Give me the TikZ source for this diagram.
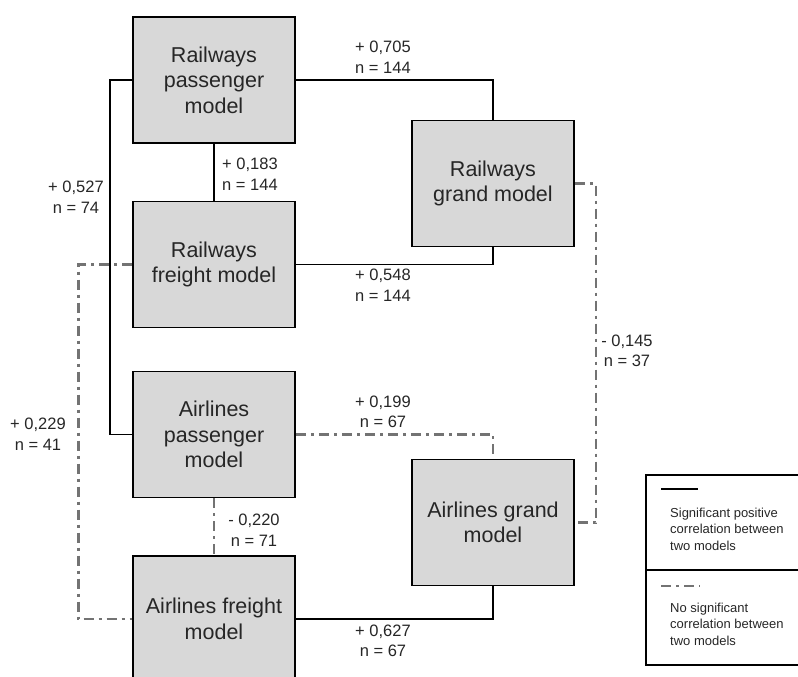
\documentclass[tikz,border=0pt]{standalone}
\usepackage{fontspec}
\setmainfont{Liberation Sans}
\begin{document}
\begin{tikzpicture}[x=1pt,y=-1pt,
  model/.style={draw=black,line width=1.6pt,fill=boxgray,minimum width=162pt,minimum height=126pt,
    align=center,font=\fontsize{21.5}{25.5}\selectfont,text=black!85,inner sep=0pt},
  sig/.style={draw=black,line width=1.6pt},
  nosig/.style={draw=linegray,line width=2.6pt,dash pattern=on 10pt off 5pt on 3pt off 5pt},
  lab/.style={align=center,font=\fontsize{16.5}{20.5}\selectfont,inner sep=0pt,text=black!85},
  leg/.style={align=left,anchor=west,font=\fontsize{13}{16.5}\selectfont,inner sep=0pt,text=black!85}]
\definecolor{boxgray}{RGB}{216,216,216}
\definecolor{linegray}{RGB}{115,115,115}
\useasboundingbox (0,0) rectangle (798,677);
\clip (0,0) rectangle (798,677);
\node[model] (RP) at (214,80) {Railways\\passenger\\model};
\node[model] (RF) at (214,264.5) {Railways\\freight model};
\node[model] (RG) at (493,183.5) {Railways\\grand model};
\node[model] (AP) at (214,434.5) {Airlines\\passenger\\model};
\node[model] (AF) at (214,619) {Airlines freight\\model};
\node[model] (AG) at (493,522.5) {Airlines grand\\model};
% connectors
\draw[sig] (RP.east) -| (RG.north);
\draw[sig] (RF.east) -| (RG.south);
\draw[sig] (RP.south) -- (RF.north);
\draw[sig] (RP.west) -- ++(-22,0) |- (AP.west);
\draw[sig] (AF.east) -| (AG.south);
\draw[nosig] (RF.west) -- ++(-54,0) |- (AF.west);
\draw[nosig] (AP.east) -| (AG.north);
\draw[nosig] (AP.south) -- (AF.north);
\draw[nosig] (RG.east) -- ++(21,0) |- (AG.east);
% labels
\node[lab] (l1) at (383,57) {+ 0,705\\n = 144};
\node[lab] (l2) at (250,174) {+ 0,183\\n = 144};
\node[lab] (l3) at (76,197) {+ 0,527\\n = 74};
\node[lab] (l4) at (383,285) {+ 0,548\\n = 144};
\node[lab] (l5) at (627,351) {- 0,145\\n = 37};
\node[lab] (l6) at (383,412) {+ 0,199\\n = 67};
\node[lab] (l7) at (38,434) {+ 0,229\\n = 41};
\node[lab] (l8) at (254,530) {- 0,220\\n = 71};
\node[lab] (l9) at (383,641) {+ 0,627\\n = 67};
% legend
\draw[line width=1.6pt] (646,475) rectangle (812,665);
\draw[line width=1.6pt] (646,570) -- (812,570);
\coordinate (s1) at (661,489);
\coordinate (s2) at (698,489);
\draw[sig] (s1) -- (s2);
\coordinate (d1) at (661,586);
\coordinate (d2) at (700,586);
\draw[nosig] (d1) -- (d2);
\node[leg] (t1) at (670,529) {Significant positive\\correlation between\\two models};
\node[leg] (t2) at (670,624) {No significant\\correlation between\\two models};
\end{tikzpicture}
\end{document}
